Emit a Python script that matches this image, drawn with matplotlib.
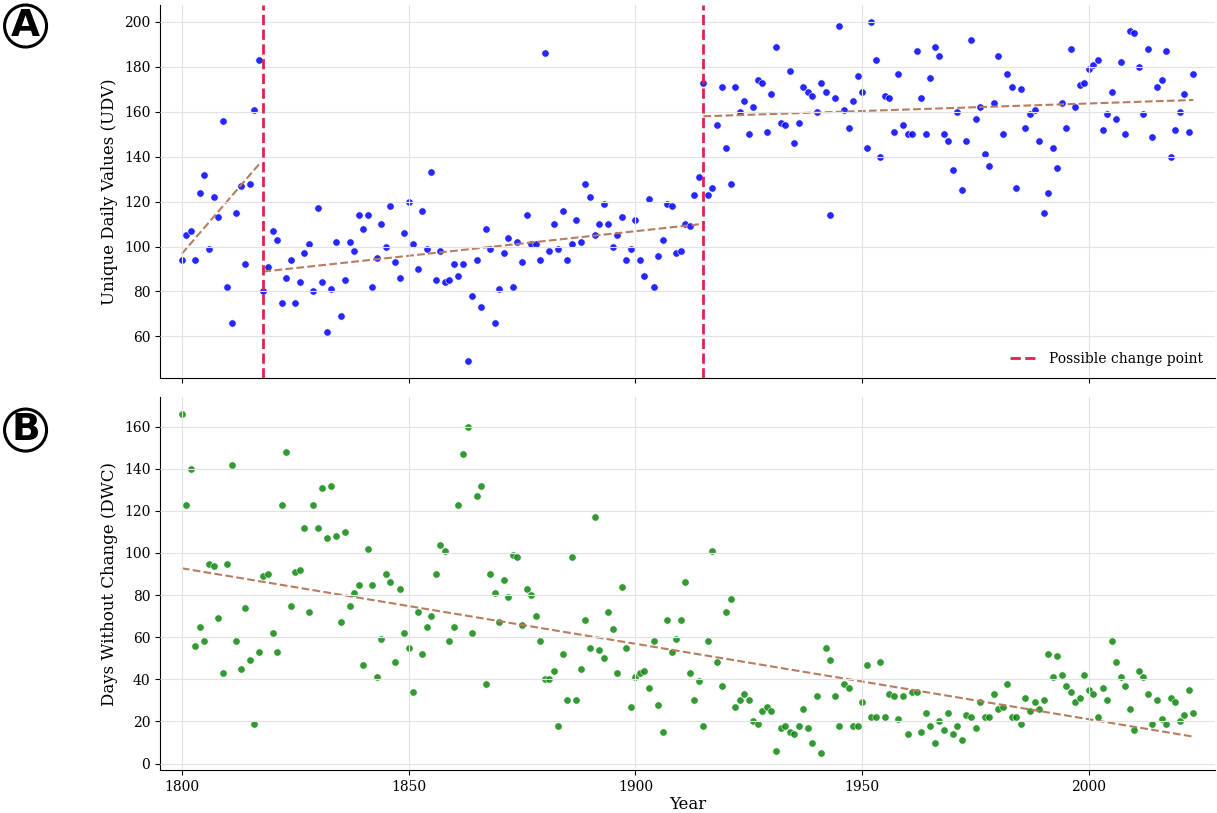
import numpy as np
import matplotlib
matplotlib.use('Agg')
import matplotlib.pyplot as plt

plt.rcParams['font.family'] = 'DejaVu Serif'

years = np.arange(1800, 2024)

# unique daily values per year
udv = [94, 105, 107, 94, 124, 132, 99, 122, 113, 156,
       82, 66, 115, 127, 92, 128, 161, 183, 80, 91,
       107, 103, 75, 86, 94, 75, 84, 97, 101, 80,
       117, 84, 62, 81, 102, 69, 85, 102, 98, 114,
       108, 114, 82, 95, 110, 100, 118, 93, 86, 106,
       120, 101, 90, 116, 99, 133, 85, 98, 84, 85,
       92, 87, 92, 49, 78, 94, 73, 108, 99, 66,
       81, 97, 104, 82, 102, 93, 114, 101, 101, 94,
       186, 98, 110, 99, 116, 94, 101, 112, 102, 128,
       122, 105, 110, 119, 110, 100, 105, 113, 94, 99,
       112, 94, 87, 121, 82, 96, 103, 119, 118, 97,
       98, 110, 109, 123, 131, 173, 123, 126, 154, 171,
       144, 128, 171, 160, 165, 150, 162, 174, 173, 151,
       168, 189, 155, 154, 178, 146, 155, 171, 169, 167,
       160, 173, 169, 114, 166, 198, 161, 153, 165, 176,
       169, 144, 200, 183, 140, 167, 166, 151, 177, 154,
       150, 150, 187, 166, 150, 175, 189, 185, 150, 147,
       134, 160, 125, 147, 192, 157, 162, 141, 136, 164,
       185, 150, 177, 171, 126, 170, 153, 159, 161, 147,
       115, 124, 144, 135, 164, 153, 188, 162, 172, 173,
       179, 181, 183, 152, 159, 169, 157, 182, 150, 196,
       195, 180, 159, 188, 149, 171, 174, 187, 140, 152,
       160, 168, 151, 177]

# days without change per year
dwc = [166, 123, 140, 56, 65, 58, 95, 94, 69, 43,
       95, 142, 58, 45, 74, 49, 19, 53, 89, 90,
       62, 53, 123, 148, 75, 91, 92, 112, 72, 123,
       112, 131, 107, 132, 108, 67, 110, 75, 81, 85,
       47, 102, 85, 41, 59, 90, 86, 48, 83, 62,
       55, 34, 72, 52, 65, 70, 90, 104, 101, 58,
       65, 123, 147, 160, 62, 127, 132, 38, 90, 81,
       67, 87, 79, 99, 98, 66, 83, 80, 70, 58,
       40, 40, 44, 18, 52, 30, 98, 30, 45, 68,
       55, 117, 54, 50, 72, 64, 43, 84, 55, 27,
       41, 43, 44, 36, 58, 28, 15, 68, 53, 59,
       68, 86, 43, 30, 39, 18, 58, 101, 48, 37,
       72, 78, 27, 30, 33, 30, 20, 19, 25, 27,
       25, 6, 17, 18, 15, 14, 18, 26, 17, 10,
       32, 5, 55, 49, 32, 18, 38, 36, 18, 18,
       29, 47, 22, 22, 48, 22, 33, 32, 21, 32,
       14, 34, 34, 15, 24, 18, 10, 20, 16, 24,
       14, 18, 11, 23, 22, 17, 29, 22, 22, 33,
       26, 27, 38, 22, 22, 19, 31, 25, 29, 26,
       30, 52, 41, 51, 42, 37, 34, 29, 31, 42,
       35, 33, 22, 36, 30, 58, 48, 41, 37, 26,
       16, 44, 41, 33, 19, 30, 21, 19, 31, 29,
       20, 23, 35, 24]

change_points = [1818, 1915]

udv = np.array(udv)
dwc = np.array(dwc)

trend_col = '#b87c5e'

fig, (ax1, ax2) = plt.subplots(2, 1, sharex=True, figsize=(12.17, 8.13), dpi=100)
fig.subplots_adjust(left=0.1315, right=0.9984, top=0.9938, bottom=0.0529, hspace=0.051)

# --- panel A
ax1.scatter(years, udv, s=28, color='blue', alpha=0.85, edgecolor='white', linewidth=0.5, zorder=1)
bounds = [years[0]] + change_points + [years[-1] + 1]
for a, b in zip(bounds[:-1], bounds[1:]):
    m = (years >= a) & (years < b)
    p = np.polyfit(years[m], udv[m], 1)
    ax1.plot(years[m], np.polyval(p, years[m]), '--', color=trend_col, lw=1.5)
for i, cp in enumerate(change_points):
    ax1.axvline(cp, color='#e0234a', ls='--', lw=2,
                label='Possible change point' if i == 0 else None, zorder=3)
ax1.set_ylabel('Unique Daily Values (UDV)', fontsize=12)
ax1.legend(loc='lower right', frameon=False, fontsize=10)

# --- panel B
ax2.scatter(years, dwc, s=28, color='green', alpha=0.8, edgecolor='white', linewidth=0.5, zorder=1)
p = np.polyfit(years, dwc, 1)
ax2.plot(years, np.polyval(p, years), '--', color=trend_col, lw=1.5)
ax2.set_ylabel('Days Without Change (DWC)', fontsize=12)
ax2.set_xlabel('Year', fontsize=12, labelpad=2)

for ax in (ax1, ax2):
    ax.grid(True, color='#e2e2e2', lw=0.8)
    ax.set_axisbelow(False)
    ax.spines['top'].set_visible(False)
    ax.spines['right'].set_visible(False)
    ax.tick_params(labelsize=10)
ax2.set_xlim(1795.2, 2027.8)
ax2.set_xticks([1800, 1850, 1900, 1950, 2000])
ax1.set_yticks([60, 80, 100, 120, 140, 160, 180, 200])
ax2.set_yticks([0, 20, 40, 60, 80, 100, 120, 140, 160])

for lab, yy in (('A', 0.968), ('B', 0.471)):
    fig.text(0.021, yy, lab, fontsize=27, fontweight='heavy', family='DejaVu Sans',
             ha='center', va='center',
             bbox=dict(boxstyle='circle,pad=0.08', fc='white', ec='black', lw=2.2))

fig.savefig('out.png', dpi=100)
